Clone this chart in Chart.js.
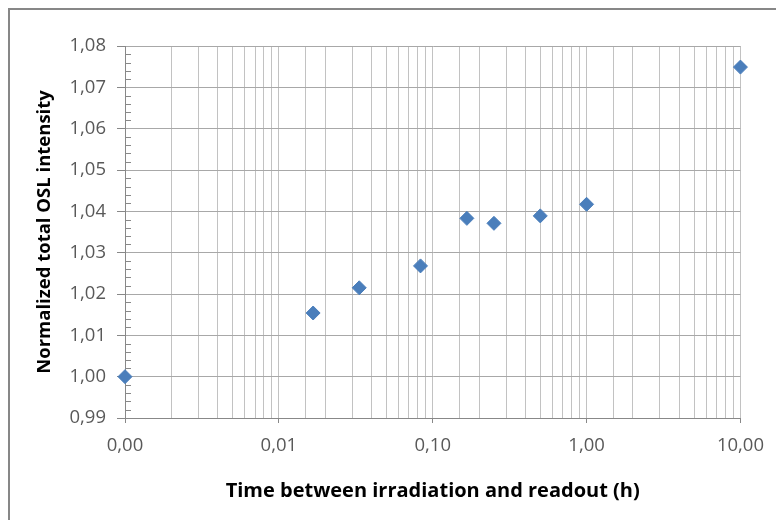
<!DOCTYPE html>
<html>
<head>
<meta charset="utf-8">
<script src="https://cdn.jsdelivr.net/npm/chart.js@4/dist/chart.umd.min.js"></script>
<style>
	html, body { margin: 0; padding: 0; background: #fff; overflow: hidden; }
	#wrap { position: relative; width: 776px; height: 520px; }
	#frame { position: absolute; left: 8px; top: 8px; width: 900px; height: 900px; border: 2px solid #878787; box-sizing: border-box; }
	canvas { position: absolute; left: 0; top: 0; }
</style>
</head>
<body>
<div id="wrap">
	<div id="frame"></div>
	<canvas id="myChart" width="776" height="520"></canvas>
</div>
<script>
// time after irradiation (h) and normalized OSL signal
const hours = [0.001, 0.0167, 0.0333, 0.0833, 0.1667, 0.25, 0.5, 1, 10];
const intensity = [1.000, 1.0154, 1.0215, 1.0268, 1.0383, 1.0371, 1.0389, 1.0417, 1.0749];

const xMin = 0.001, xMax = 10;
const yMin = 0.99, yMax = 1.08, yMinorStep = 0.002;

const font = "'Open Sans', 'Liberation Sans', sans-serif";

function isDecade(v) {
	const l = Math.log10(v);
	return Math.abs(l - Math.round(l)) < 1e-6;
}
function isMajorY(v) {
	return Math.round(v * 1000) % 10 === 0;
}
function comma(v) {
	return v.toFixed(2).replace('.', ',');
}

// small inward tick marks between the y labels
const minorTicks = {
	id: 'minorTicks',
	afterDraw(chart) {
		const y = chart.scales.y;
		const ctx = chart.ctx;
		ctx.save();
		ctx.strokeStyle = '#888';
		ctx.lineWidth = 1;
		y.ticks.forEach(t => {
			if (isMajorY(t.value)) return;
			const py = Math.round(y.getPixelForValue(t.value)) + 0.5;
			ctx.beginPath();
			ctx.moveTo(y.right, py);
			ctx.lineTo(y.right + 6, py);
			ctx.stroke();
		});
		ctx.restore();
	}
};

const points = hours.map((h, i) => ({ x: h, y: intensity[i] }));

const config = {
	type: 'scatter',
	data: {
		datasets: [{
			data: points,
			backgroundColor: '#4a7ebb',
			borderColor: '#4a7ebb',
			borderWidth: 1,
			pointStyle: 'rectRot',
			pointRadius: 7,
			pointHoverRadius: 7,
			clip: false
		}]
	},
	options: {
		responsive: false,
		animation: false,
		layout: { padding: { left: 0, top: 46, right: 35, bottom: 0 } },
		plugins: {
			legend: { display: false },
			tooltip: { enabled: false }
		},
		scales: {
			x: {
				type: 'logarithmic',
				min: xMin,
				max: xMax,
				afterFit(scale) { scale.height = 102; },
				border: { color: '#888', width: 1 },
				grid: {
					color: '#c2c2c2',
					tickLength: 5,
					tickColor: ctx => isDecade(ctx.tick.value) ? '#888' : 'rgba(0,0,0,0)'
				},
				ticks: {
					autoSkip: false,
					maxRotation: 0,
					padding: 12,
					color: '#595959',
					font: { family: font, size: 18.5 },
					callback: v => isDecade(v) ? comma(v) : ''
				},
				title: {
					display: true,
					text: 'Time between irradiation and readout (h)',
					color: '#000',
					font: { family: font, size: 20, weight: 'bold' },
					padding: { top: 0, bottom: 17 }
				}
			},
			y: {
				min: yMin,
				max: yMax,
				afterFit(scale) { scale.width = 125; },
				border: { color: '#888', width: 1 },
				grid: {
					color: ctx => isMajorY(ctx.tick.value) ? '#a8a8a8' : 'rgba(0,0,0,0)',
					tickLength: 8,
					tickColor: ctx => isMajorY(ctx.tick.value) ? '#888' : 'rgba(0,0,0,0)'
				},
				ticks: {
					stepSize: yMinorStep,
					autoSkip: false,
					padding: 11,
					color: '#595959',
					font: { family: font, size: 18.5 },
					callback: v => isMajorY(v) ? comma(v) : ''
				},
				title: {
					display: true,
					text: 'Normalized total OSL intensity',
					color: '#000',
					font: { family: font, size: 18.5, weight: 'bold' },
					padding: { top: 34, bottom: 0 }
				}
			}
		}
	},
	plugins: [minorTicks]
};

const myChart = new Chart(document.getElementById('myChart'), config);
</script>
</body>
</html>
